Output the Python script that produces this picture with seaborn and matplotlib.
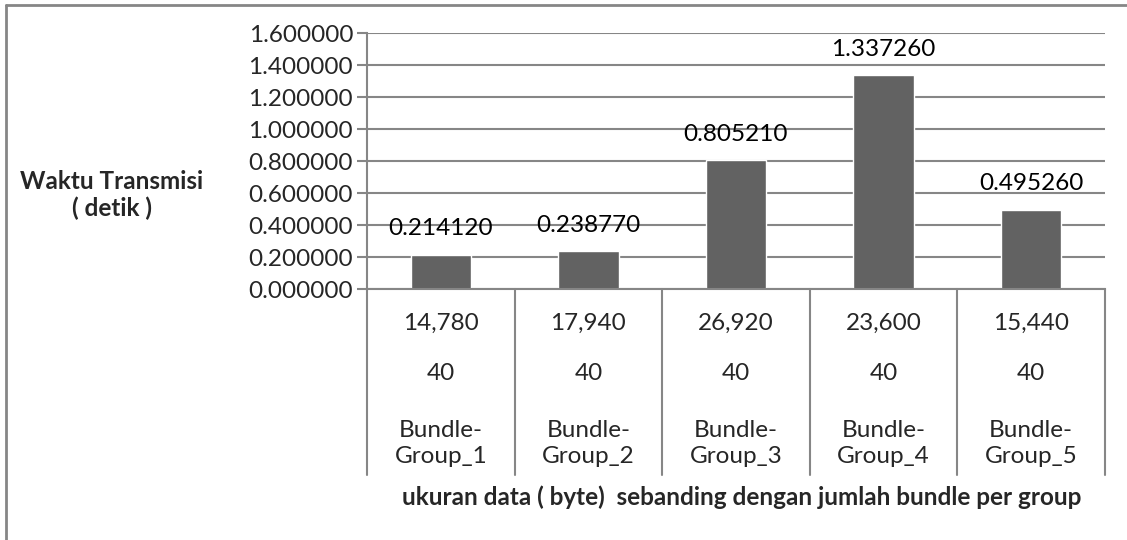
import matplotlib
matplotlib.use("Agg")
import matplotlib.pyplot as plt
import matplotlib.transforms as mtransforms
from matplotlib.lines import Line2D
import seaborn as sns
import pandas as pd

# data
groups = ["Bundle-\nGroup_1", "Bundle-\nGroup_2", "Bundle-\nGroup_3",
          "Bundle-\nGroup_4", "Bundle-\nGroup_5"]
data_size = ["14,780", "17,940", "26,920", "23,600", "15,440"]
bundles = ["40", "40", "40", "40", "40"]
waktu = [0.214120, 0.238770, 0.805210, 1.337260, 0.495260]

df = pd.DataFrame({"group": groups, "waktu": waktu})

sns.set_style("white")
plt.rcParams["font.family"] = ["Lato", "DejaVu Sans"]

fs = 17.5
grid_col = "#868686"
bar_col = "#626262"

fig = plt.figure(figsize=(11.27, 5.40), dpi=100)
ax = fig.add_axes([367 / 1127, 1 - 289 / 540, (1105 - 367) / 1127, 256 / 540])

sns.barplot(data=df, x="group", y="waktu", color=bar_col, width=0.41,
            saturation=1, ax=ax)

ax.set_ylim(0, 1.6)
ax.set_xlim(-0.5, len(groups) - 0.5)
ax.set_yticks([i * 0.2 for i in range(9)])
ax.set_yticklabels([f"{i * 0.2:.6f}" for i in range(9)], fontsize=fs)
ax.yaxis.grid(True, color=grid_col, linewidth=1.5)
ax.set_axisbelow(True)
ax.tick_params(axis="y", length=7, width=1.5, color=grid_col, pad=3, left=True)
ax.tick_params(axis="x", length=0, labelbottom=False)
for s in ["top", "right"]:
    ax.spines[s].set_visible(False)
for s in ["left", "bottom"]:
    ax.spines[s].set_color(grid_col)
    ax.spines[s].set_linewidth(1.5)

# value labels
for i, v in enumerate(waktu):
    ax.annotate(f"{v:.6f}", (i, v), xytext=(0, 11), textcoords="offset points",
                ha="center", va="bottom", fontsize=fs, color="#000000")

# multi-level category axis
trans = mtransforms.blended_transform_factory(ax.transData, ax.transAxes)
for k in range(len(groups) + 1):
    ax.add_line(Line2D([k - 0.5, k - 0.5], [0, -0.727], transform=trans,
                       color=grid_col, linewidth=1.5, clip_on=False))
for i in range(len(groups)):
    ax.text(i, -0.133, data_size[i], transform=trans, ha="center", va="center",
            fontsize=fs)
    ax.text(i, -0.332, bundles[i], transform=trans, ha="center", va="center",
            fontsize=fs)
    ax.text(i, -0.605, groups[i], transform=trans, ha="center", va="center",
            fontsize=fs, linespacing=1.3)

ax.set_xlabel("")
ax.set_ylabel("")
fig.text(742 / 1127, 1 - 497 / 540,
         "ukuran data ( byte)  sebanding dengan jumlah bundle per group",
         ha="center", va="center", fontsize=17.5, fontweight="bold")
fig.text(112 / 1127, 1 - 195 / 540, "Waktu Transmisi\n( detik )",
         ha="center", va="center", fontsize=17.5, fontweight="bold",
         linespacing=1.15)

# chart border (only top and left edges visible)
fig.add_artist(Line2D([6 / 1127, 6 / 1127], [0, 1 - 5 / 540],
                      transform=fig.transFigure, color=grid_col, linewidth=2))
fig.add_artist(Line2D([6 / 1127, 1], [1 - 5 / 540, 1 - 5 / 540],
                      transform=fig.transFigure, color=grid_col, linewidth=2))

fig.savefig("out.png", dpi=100, facecolor="white")
